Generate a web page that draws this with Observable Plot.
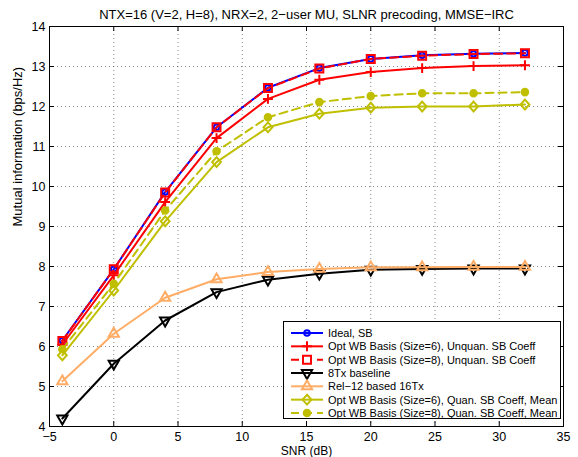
<!DOCTYPE html>
<html><head><meta charset="utf-8">
<script src="https://cdn.jsdelivr.net/npm/d3@7"></script>
<script src="https://cdn.jsdelivr.net/npm/@observablehq/plot@0.6"></script>
<style>
body{margin:0;background:#fff;font-family:"Liberation Sans",Arial,sans-serif;}
#wrap{position:relative;width:578px;height:457px;}
#legend{position:absolute;left:283px;top:321px;}
</style></head>
<body><div id="wrap"></div>
<script>
// ---- data ----
const snr = [-4, 0, 4, 8, 12, 16, 20, 24, 28, 32];
const idealSB = [6.15, 7.93, 9.86, 11.48, 12.47, 12.96, 13.19, 13.28, 13.32, 13.34];
const optWB6Unquan = [6.05, 7.78, 9.61, 11.21, 12.19, 12.67, 12.86, 12.96, 13.01, 13.03];
const optWB8Unquan = [6.14, 7.93, 9.85, 11.48, 12.46, 12.95, 13.19, 13.27, 13.31, 13.33];
const baseline8Tx = [4.20, 5.57, 6.65, 7.36, 7.67, 7.82, 7.92, 7.94, 7.95, 7.95];
const rel12_16Tx = [5.13, 6.32, 7.22, 7.68, 7.86, 7.94, 7.98, 7.98, 7.99, 7.99];
const optWB6Quan = [5.78, 7.40, 9.13, 10.61, 11.48, 11.82, 11.97, 12.00, 12.00, 12.05];
const optWB8Quan = [5.93, 7.57, 9.40, 10.88, 11.73, 12.11, 12.26, 12.33, 12.33, 12.36];
const seriesNames = [
  "Ideal, SB",
  "Opt WB Basis (Size=6), Unquan. SB Coeff",
  "Opt WB Basis (Size=8), Unquan. SB Coeff",
  "8Tx baseline",
  "Rel\u221212 based 16Tx",
  "Opt WB Basis (Size=6), Quan. SB Coeff, Mean",
  "Opt WB Basis (Size=8), Quan. SB Coeff, Mean"
];
const xTicks = [-5, 0, 5, 10, 15, 20, 25, 30, 35];
const yTicks = [4, 5, 6, 7, 8, 9, 10, 11, 12, 13, 14];
const title = "NTX=16 (V=2, H=8), NRX=2, 2\u2212user MU, SLNR precoding, MMSE\u2212IRC";
const xLabel = "SNR (dB)";
const yLabel = "Mutual information (bps/Hz)";

// custom marker shapes
const triangleDown = {
  draw(ctx, size) {
    const s = Math.sqrt(4 * size / Math.sqrt(3));
    const h = s * Math.sqrt(3) / 2;
    ctx.moveTo(0, 2 * h / 3);
    ctx.lineTo(s / 2, -h / 3);
    ctx.lineTo(-s / 2, -h / 3);
    ctx.closePath();
  }
};
const triangleUp = {
  draw(ctx, size) {
    const s = Math.sqrt(4 * size / Math.sqrt(3));
    const h = s * Math.sqrt(3) / 2;
    ctx.moveTo(0, -2 * h / 3);
    ctx.lineTo(s / 2, h / 3);
    ctx.lineTo(-s / 2, h / 3);
    ctx.closePath();
  }
};
const diamond = {
  draw(ctx, size) {
    const a = Math.sqrt(size / 2);
    ctx.moveTo(0, -a * 1.12);
    ctx.lineTo(a, 0);
    ctx.lineTo(0, a * 1.12);
    ctx.lineTo(-a, 0);
    ctx.closePath();
  }
};

const styles = [
  {vals: idealSB, color: "#0000ff", dash: null, symbol: "circle", fill: "none", r: 2.8},
  {vals: optWB6Unquan, color: "#ff0000", dash: null, symbol: "plus", fill: "none", r: 3.3},
  {vals: optWB8Unquan, color: "#ff0000", dash: "8,5", symbol: "square", fill: "none", r: 4.5},
  {vals: baseline8Tx, color: "#000000", dash: null, symbol: triangleDown, fill: "none", r: 3.8},
  {vals: rel12_16Tx, color: "#ffad66", dash: null, symbol: triangleUp, fill: "none", r: 3.8},
  {vals: optWB6Quan, color: "#bfbf00", dash: null, symbol: diamond, fill: "none", r: 3.5},
  {vals: optWB8Quan, color: "#bfbf00", dash: "8,5", symbol: "circle", fill: "#bfbf00", r: 3.3}
];

const series = styles.map((s, i) => ({
  ...s,
  name: seriesNames[i],
  data: snr.map((x, j) => ({snr: x, value: s.vals[j]}))
}));

const W = 578, H = 457;
const mt = 26, mb = 31, ml = 49, mr = 15;
const innerH = H - mt - mb, innerW = W - ml - mr;
const FONT = "'Liberation Sans', Arial, sans-serif";

const marks = [
  Plot.gridX(xTicks, {stroke: "#000", strokeOpacity: 0.45, strokeDasharray: "1,3"}),
  Plot.gridY(yTicks, {stroke: "#000", strokeOpacity: 0.45, strokeDasharray: "1,3"}),
];
for (const s of series) {
  marks.push(Plot.line(s.data, {x: "snr", y: "value", stroke: s.color, strokeWidth: 2, strokeDasharray: s.dash}));
  marks.push(Plot.dot(s.data, {x: "snr", y: "value", stroke: s.color, fill: s.fill, symbol: s.symbol, r: s.r, strokeWidth: 2}));
}
// inward ticks on all four sides
marks.push(
  Plot.tickX(xTicks, {x: d => d, stroke: "#000", insetTop: innerH - 5}),
  Plot.tickX(xTicks, {x: d => d, stroke: "#000", insetBottom: innerH - 5}),
  Plot.tickY(yTicks, {y: d => d, stroke: "#000", insetRight: innerW - 5}),
  Plot.tickY(yTicks, {y: d => d, stroke: "#000", insetLeft: innerW - 5}),
  Plot.frame({stroke: "#000"}),
  Plot.axisX(xTicks, {tickSize: 0, tickPadding: 6, tickFormat: d => d < 0 ? "\u2212" + Math.abs(d) : String(d), label: null, fontSize: 12.5}),
  Plot.axisY(yTicks, {tickSize: 0, tickPadding: 4, label: null, fontSize: 12.5}),
  Plot.text([title], {frameAnchor: "top", lineAnchor: "middle", dy: -12, fontSize: 13, fill: "#000"}),
  Plot.text([xLabel], {frameAnchor: "bottom", lineAnchor: "middle", dy: 24.3, fontSize: 12, fill: "#000"}),
  Plot.text([yLabel], {frameAnchor: "left", dx: -32, rotate: -90, fontSize: 13, fill: "#000"})
);

const chart = Plot.plot({
  width: W, height: H,
  marginTop: mt, marginBottom: mb, marginLeft: ml, marginRight: mr,
  x: {domain: [-5, 35]},
  y: {domain: [4, 14]},
  style: {fontFamily: FONT, fontSize: "13px", color: "#000", background: "#fff", overflow: "visible"},
  marks
});
const wrap = document.getElementById("wrap");
wrap.appendChild(chart);

// legend (inside plot area, lower right)
const LW = 278, LH = 98, rowH = 13.33;
const leg = d3.select(wrap).append("svg").attr("id", "legend")
  .attr("width", LW).attr("height", LH)
  .style("font-family", FONT);
leg.append("rect").attr("x", 0.5).attr("y", 0.5).attr("width", LW - 1).attr("height", LH - 1)
  .attr("fill", "#fff").attr("stroke", "#000");
series.forEach((s, i) => {
  const cy = 12 + i * rowH;
  const g = leg.append("g");
  g.append("line").attr("x1", 8).attr("x2", 40).attr("y1", cy).attr("y2", cy)
    .attr("stroke", s.color).attr("stroke-width", 2).attr("stroke-dasharray", s.dash);
  const type = typeof s.symbol === "string"
    ? ({circle: d3.symbolCircle, plus: d3.symbolPlus, square: d3.symbolSquare})[s.symbol]
    : s.symbol;
  g.append("path").attr("transform", `translate(24,${cy})`)
    .attr("d", d3.symbol(type, Math.PI * s.r * s.r)())
    .attr("stroke", s.color).attr("stroke-width", 2)
    .attr("fill", s.fill === "none" ? (s.symbol === "square" ? "#fff" : "none") : s.fill);
  g.append("text").attr("x", 45).attr("y", cy).attr("dy", "0.35em")
    .attr("font-size", 11).text(s.name);
});
</script>
</body></html>
